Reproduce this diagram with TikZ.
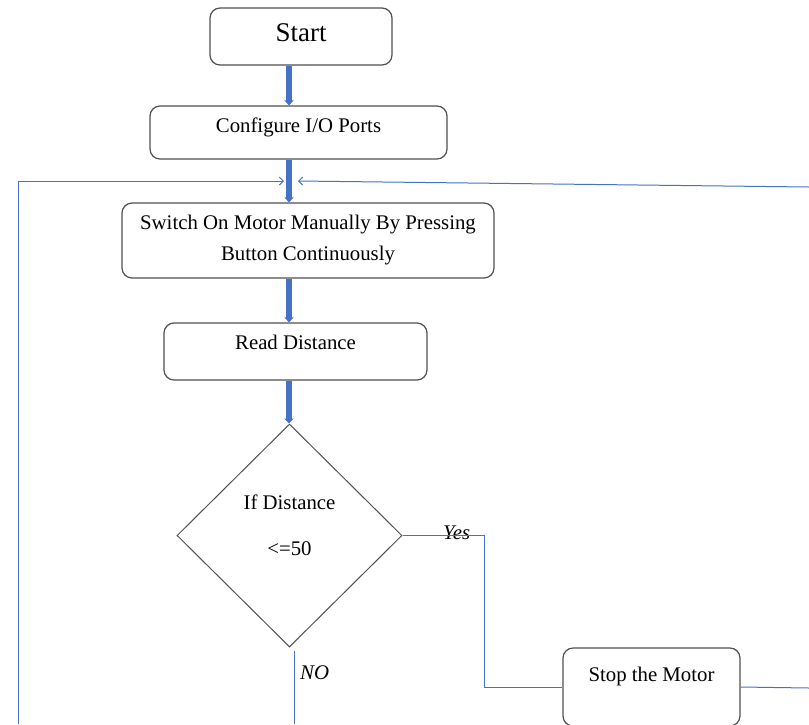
\documentclass[tikz,border=0pt]{standalone}
\usepackage{fontspec}
\setmainfont{Liberation Serif}
\usetikzlibrary{arrows.meta, shapes.geometric, calc}
\definecolor{flowblue}{HTML}{4472C4}
\definecolor{boxline}{HTML}{505050}

\begin{document}
\begin{tikzpicture}[
  x=1pt, y=-1pt,
  font=\fontsize{20.8}{24}\selectfont,
  box/.style={draw=boxline, line width=1.2pt, fill=white, rounded corners=10pt,
              inner sep=0pt, align=center},
  lift/.style={text height=14pt, text depth=#1},
  decide/.style={diamond, draw=boxline, line width=1pt, fill=white, inner sep=0pt,
                 align=center, minimum width=225pt, minimum height=223pt},
  main/.style={-{Triangle[length=5pt, width=9pt]}, line width=5.5pt, draw=flowblue},
  back/.style={-{Straight Barb[length=4pt, width=8pt]}, line width=1pt, draw=flowblue},
  link/.style={line width=1pt, draw=flowblue},
  tag/.style={font=\itshape\fontsize{20.8}{24}\selectfont, inner sep=0pt}
]
\clip (0,0) rectangle (809,724);

% main column
\node[box, minimum width=182pt, minimum height=57pt, text height=18.5pt, text depth=8.6pt,
      font=\fontsize{27}{32}\selectfont] (start) at (301,36.5) {Start};
\node[box, lift=14.4pt, minimum width=297pt, minimum height=53pt] (conf) at (298.5,132.5) {Configure I/O Ports};
\node[box, minimum width=372pt, minimum height=75pt] (switch) at (308,240.5)
  {Switch On Motor Manually By Pressing\\[7pt]Button Continuously};
\node[box, lift=17.4pt, minimum width=263pt, minimum height=57pt] (read) at (295.5,351.5) {Read Distance};
\node[decide, text height=60pt, text depth=20.4pt] (dist) at (289.5,535.5) {If Distance\\[22pt]<=50};
\node[box, lift=24.4pt, minimum width=177pt, minimum height=78pt] (stop) at (651.5,687) {Stop the Motor};

\node[tag, anchor=base west] (yes) at (443,539) {Yes};
\node[tag, anchor=base west] (no) at (300,679) {NO};

\coordinate (spine) at (289,0);
\coordinate (jl) at (284,181);
\coordinate (jr) at (298,181);
\coordinate (lbot) at (18,724);
\coordinate (rtop) at (809,187);
\coordinate (redge) at (809,688);
\coordinate (nobot) at (294,724);

\draw[main] (start.south -| spine) -- (conf.north -| spine);
\draw[main] (conf.south -| spine) -- (switch.north -| spine);
\draw[main] (switch.south -| spine) -- (read.north -| spine);
\draw[main] (read.south -| spine) -- (dist.north -| spine);

% loops back to the top
\draw[back] (lbot) |- (jl);
\draw[back] (rtop) -- (jr);

\draw[link] (dist.east) -- ++(82,0) |- (stop.west);
\draw[link] (stop.east) -- (redge);
\draw[link] ([yshift=-3pt]dist.south -| nobot) -- (nobot);
\end{tikzpicture}
\end{document}
